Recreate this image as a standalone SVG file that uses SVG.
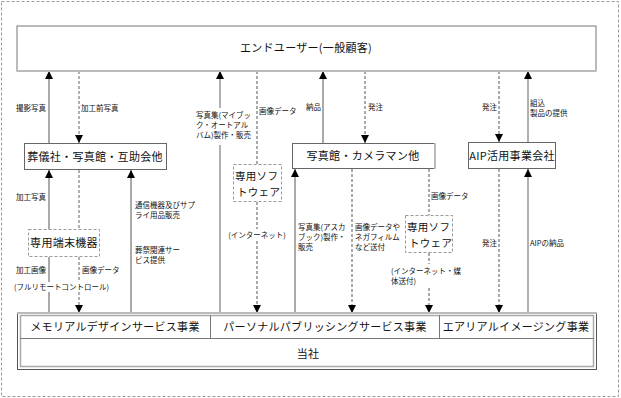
<svg xmlns="http://www.w3.org/2000/svg" width="621" height="398" viewBox="0 0 621 398">
<style>
text{font-family:"Noto Sans CJK JP","Liberation Sans",sans-serif;fill:#111}
.box{fill:#fff;stroke:#666;stroke-width:1}
.dbox{fill:#fff;stroke:#999;stroke-width:1;stroke-dasharray:3,2}
.bt{font-size:11px;text-anchor:middle;letter-spacing:0.3px}
.st{font-size:10.5px;letter-spacing:0.3px}
.lb{font-size:7.5px}
.s{fill:none;stroke:#555;stroke-width:1}
.g{fill:none;stroke:#b0b0b0;stroke-width:2}
.d{fill:none;stroke:#555;stroke-width:1;stroke-dasharray:3,2}
.gd{fill:none;stroke:#b0b0b0;stroke-width:2;stroke-dasharray:3,2}
</style>
<defs>
<marker id="ah" viewBox="0 0 10 10" refX="10" refY="5" markerWidth="10" markerHeight="8" markerUnits="userSpaceOnUse" orient="auto">
<path d="M0,0 L10,5 L0,10 z" fill="#000"/>
</marker>
</defs>
<rect x="1.5" y="1.5" width="617" height="395" fill="none" stroke="#999" stroke-width="1" stroke-dasharray="3,2"/>

<g id="connectors">
<path class="s" d="M49,143 V71" marker-end="url(#ah)"/>
<path class="gd" d="M79,71 V143" marker-end="url(#ah)"/>
<path class="s" d="M49,229 V170" marker-end="url(#ah)"/>
<path class="gd" d="M79,170 V229"/>
<path class="s" d="M49,313 V292 M49,282 V257"/>
<path class="gd" d="M79,257 V282 M79,292 V313" marker-end="url(#ah)"/>
<path class="s" d="M131,313 V170" marker-end="url(#ah)"/>
<path class="g" d="M220,313 V145 M220,108 V71" marker-end="url(#ah)"/>
<path class="d" d="M257,71 V164 M257,202 V229 M257,241 V313" marker-end="url(#ah)"/>
<path class="s" d="M323,143 V71" marker-end="url(#ah)"/>
<path class="d" d="M365,71 V143" marker-end="url(#ah)"/>
<path class="s" d="M295,313 V169" marker-end="url(#ah)"/>
<path class="d" d="M352,169 V313" marker-end="url(#ah)"/>
<path class="d" d="M429,169 V215 M429,253 V264 M429,288 V313" marker-end="url(#ah)"/>
<path class="d" d="M499,71 V142" marker-end="url(#ah)"/>
<path class="g" d="M528,142 V71" marker-end="url(#ah)"/>
<path class="d" d="M499,169 V313" marker-end="url(#ah)"/>
<path class="g" d="M528,313 V169" marker-end="url(#ah)"/>
</g>

<g id="labels">
<text class="lb" x="16" y="111">撮影写真</text>
<text class="lb" x="81" y="111">加工前写真</text>
<text class="lb" x="196" y="118">写真集(マイブッ</text>
<text class="lb" x="196" y="128">ク・オートアル</text>
<text class="lb" x="196" y="138">バム)製作・販売</text>
<text class="lb" x="259" y="114">画像データ</text>
<text class="lb" x="306" y="110">納品</text>
<text class="lb" x="368" y="110">発注</text>
<text class="lb" x="257" y="238" text-anchor="middle">(インターネット)</text>
<text class="lb" x="298" y="230">写真集(アスカ</text>
<text class="lb" x="298" y="240">ブック)製作・</text>
<text class="lb" x="298" y="250">販売</text>
<text class="lb" x="355" y="230">画像データや</text>
<text class="lb" x="355" y="240">ネガフィルム</text>
<text class="lb" x="355" y="250">など送付</text>
<text class="lb" x="431" y="199">画像データ</text>
<text class="lb" x="391" y="274">(インターネット・媒</text>
<text class="lb" x="391" y="284">体送付)</text>
<text class="lb" x="482" y="110">発注</text>
<text class="lb" x="530" y="106">組込</text>
<text class="lb" x="530" y="116">製品の提供</text>
<text class="lb" x="482" y="246">発注</text>
<text class="lb" x="530" y="246">AIPの納品</text>
<text class="lb" x="16" y="200">加工写真</text>
<text class="lb" x="135" y="208">通信機器及びサプ</text>
<text class="lb" x="135" y="218">ライ用品販売</text>
<text class="lb" x="135" y="253">葬祭関連サー</text>
<text class="lb" x="135" y="263">ビス提供</text>
<text class="lb" x="16" y="273">加工画像</text>
<text class="lb" x="82" y="273">画像データ</text>
<text class="lb" x="14" y="290">(フルリモートコントロール)</text>
</g>

<g id="enduser">
<rect x="17" y="26" width="579" height="45" fill="#fff" stroke="#777" stroke-width="1"/>
<line x1="17" y1="71" x2="596" y2="71" stroke="#bbb" stroke-width="2"/>
<text class="bt" x="306" y="52">エンドユーザー(一般顧客)</text>
</g>

<g id="sougisha">
<rect class="box" x="24.5" y="143.5" width="142" height="26"/>
<text class="bt" x="95" y="161">葬儀社・写真館・互助会他</text>
</g>

<g id="tanmatsu">
<rect class="dbox" x="28.5" y="229.5" width="71" height="27"/>
<text class="bt" x="64" y="247">専用端末機器</text>
</g>

<g id="soft1">
<rect class="dbox" x="233.5" y="164.5" width="48" height="37"/>
<text class="st" x="235" y="180">専用ソフ</text>
<text class="st" x="237" y="195.5">トウェア</text>
</g>

<g id="shashinkan">
<rect class="box" x="292.5" y="143.5" width="142" height="25"/>
<line x1="435" y1="143" x2="435" y2="169" stroke="#bbb" stroke-width="2"/>
<text class="bt" x="363" y="160">写真館・カメラマン他</text>
</g>

<g id="soft2">
<rect class="dbox" x="405.5" y="215.5" width="47" height="37"/>
<text class="st" x="407" y="231">専用ソフ</text>
<text class="st" x="409" y="246.5">トウェア</text>
</g>

<g id="aip">
<rect class="box" x="468.5" y="142.5" width="87" height="26"/>
<text class="bt" x="512" y="160">AIP活用事業会社</text>
</g>

<g id="tousha">
<rect x="17.5" y="312.5" width="579" height="57" fill="#fff" stroke="#555" stroke-width="1"/>
<rect x="20.5" y="315.5" width="573" height="51" fill="none" stroke="#aaa" stroke-width="1.5"/>
<line x1="17" y1="313" x2="597" y2="313" stroke="#bbb" stroke-width="2"/>
<line x1="20" y1="338.5" x2="594" y2="338.5" stroke="#777" stroke-width="1"/>
<line x1="210.5" y1="315" x2="210.5" y2="338" stroke="#777" stroke-width="1"/>
<line x1="439.5" y1="315" x2="439.5" y2="338" stroke="#777" stroke-width="1"/>
<text class="bt" x="115" y="331">メモリアルデザインサービス事業</text>
<text class="bt" x="325" y="331">パーソナルパブリッシングサービス事業</text>
<text class="bt" x="516" y="331">エアリアルイメージング事業</text>
<text class="bt" x="308" y="358">当社</text>
</g>
</svg>
